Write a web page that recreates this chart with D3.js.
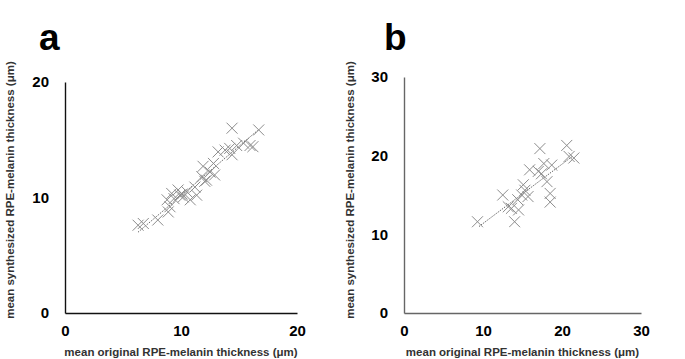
<!DOCTYPE html>
<html>
<head>
<meta charset="utf-8">
<script src="https://cdn.jsdelivr.net/npm/d3@7"></script>
<style>
  body { margin: 0; background: #fff; }
  text { font-family: "Liberation Sans", Arial, sans-serif; font-weight: bold; }
</style>
</head>
<body>
<div id="chart"></div>
<script>
// panel a: mean original vs mean synthesized RPE-melanin thickness (um)
const aOriginal = [6.3, 6.75, 8.0, 8.9, 9.05, 8.8, 9.2, 9.75, 9.9, 10.2, 10.5, 10.8, 11.35, 11.2, 11.8,
                   12.05, 11.9, 12.5, 12.9, 12.8, 13.2, 13.8, 14.2, 14.4, 14.8, 14.4, 15.4, 15.95, 16.2, 16.7,
                   10.1, 12.2, 9.4];
const aSynth    = [7.6, 7.75, 8.05, 8.75, 9.2, 9.8, 10.35, 10.65, 10.2, 10.05, 10.5, 9.8, 10.2, 10.9, 11.8,
                   11.4, 12.7, 12.2, 11.95, 12.95, 13.95, 14.1, 14.25, 13.7, 14.5, 16.0, 14.7, 14.5, 14.4, 15.85,
                   10.3, 11.5, 9.9];
const aTrend = [[6.3, 7.0], [16.6, 15.8]];

// panel b
const bOriginal = [9.3, 12.5, 13.2, 13.6, 14.0, 14.5, 14.4, 14.9, 15.1, 15.3, 15.7, 15.9, 17.0, 17.2,
                   17.7, 18.1, 18.7, 18.5, 18.5, 20.6, 20.9, 21.5, 17.4];
const bSynth    = [11.6, 15.0, 13.5, 13.3, 11.6, 13.1, 14.4, 15.0, 16.3, 15.6, 14.8, 18.2, 18.0, 20.9,
                   19.0, 16.7, 18.8, 15.2, 14.1, 21.3, 19.9, 19.7, 17.7];
const bTrend = [[9.5, 11.0], [21.3, 19.9]];

const aTicks = [0, 10, 20];
const bTicks = [0, 10, 20, 30];

const xTitle = "mean original RPE-melanin thickness (\u03bcm)";
const yTitle = "mean synthesized RPE-melanin thickness (\u03bcm)";

const svg = d3.select("#chart").append("svg")
  .attr("width", 685)
  .attr("height", 359);

function drawPanel(opt) {
  const x = d3.scaleLinear().domain([0, opt.max]).range([opt.left, opt.right]);
  const y = d3.scaleLinear().domain([0, opt.max]).range([313, opt.top]);
  const g = svg.append("g");

  // panel letter
  g.append("text")
    .attr("x", opt.letterX)
    .attr("y", 50)
    .attr("font-size", 37)
    .attr("fill", "#000")
    .text(opt.letter);

  // axes
  const xAxis = g.append("g")
    .attr("transform", `translate(0,313)`)
    .call(d3.axisBottom(x).tickValues(opt.ticks).tickSize(0).tickPadding(12));
  const yAxis = g.append("g")
    .attr("transform", `translate(${opt.left},0)`)
    .call(d3.axisLeft(y).tickValues(opt.ticks).tickSize(0).tickPadding(16));

  [xAxis, yAxis].forEach(ax => {
    ax.select(".domain").attr("stroke", opt.axisColor).attr("stroke-width", 1.4);
    ax.selectAll("text")
      .attr("font-size", 15)
      .attr("font-family", "Liberation Sans, Arial, sans-serif")
      .attr("font-weight", "bold")
      .attr("fill", "#000");
  });
  xAxis.attr("text-anchor", "middle");

  // trend line (dotted)
  g.append("path")
    .attr("d", d3.line().x(d => x(d[0])).y(d => y(d[1]))(opt.trend))
    .attr("fill", "none")
    .attr("stroke", "#555")
    .attr("stroke-width", 1)
    .attr("stroke-dasharray", "1.2,1.2");

  // x markers
  const s = 5.5;
  g.append("g").selectAll("path")
    .data(opt.xs.map((v, i) => [v, opt.ys[i]]))
    .join("path")
    .attr("d", d => {
      const cx = x(d[0]), cy = y(d[1]);
      return `M${cx - s},${cy - s}L${cx + s},${cy + s}M${cx - s},${cy + s}L${cx + s},${cy - s}`;
    })
    .attr("stroke", "#8c8c8c")
    .attr("stroke-width", 1)
    .attr("fill", "none");

  // axis titles
  g.append("text")
    .attr("x", (opt.left + opt.right) / 2)
    .attr("y", 356)
    .attr("text-anchor", "middle")
    .attr("font-size", 11.5)
    .attr("fill", "#333")
    .text(xTitle);

  g.append("text")
    .attr("transform", `translate(${opt.yTitleX},190) rotate(-90)`)
    .attr("text-anchor", "middle")
    .attr("font-size", 11.5)
    .attr("fill", "#333")
    .text(yTitle);
}

drawPanel({
  letter: "a", letterX: 39, left: 65, right: 297, top: 82, max: 20,
  ticks: aTicks, xs: aOriginal, ys: aSynth, trend: aTrend,
  axisColor: "#111", yTitleX: 14
});

drawPanel({
  letter: "b", letterX: 384, left: 404, right: 641, top: 77, max: 30,
  ticks: bTicks, xs: bOriginal, ys: bSynth, trend: bTrend,
  axisColor: "#666", yTitleX: 354
});
</script>
</body>
</html>
